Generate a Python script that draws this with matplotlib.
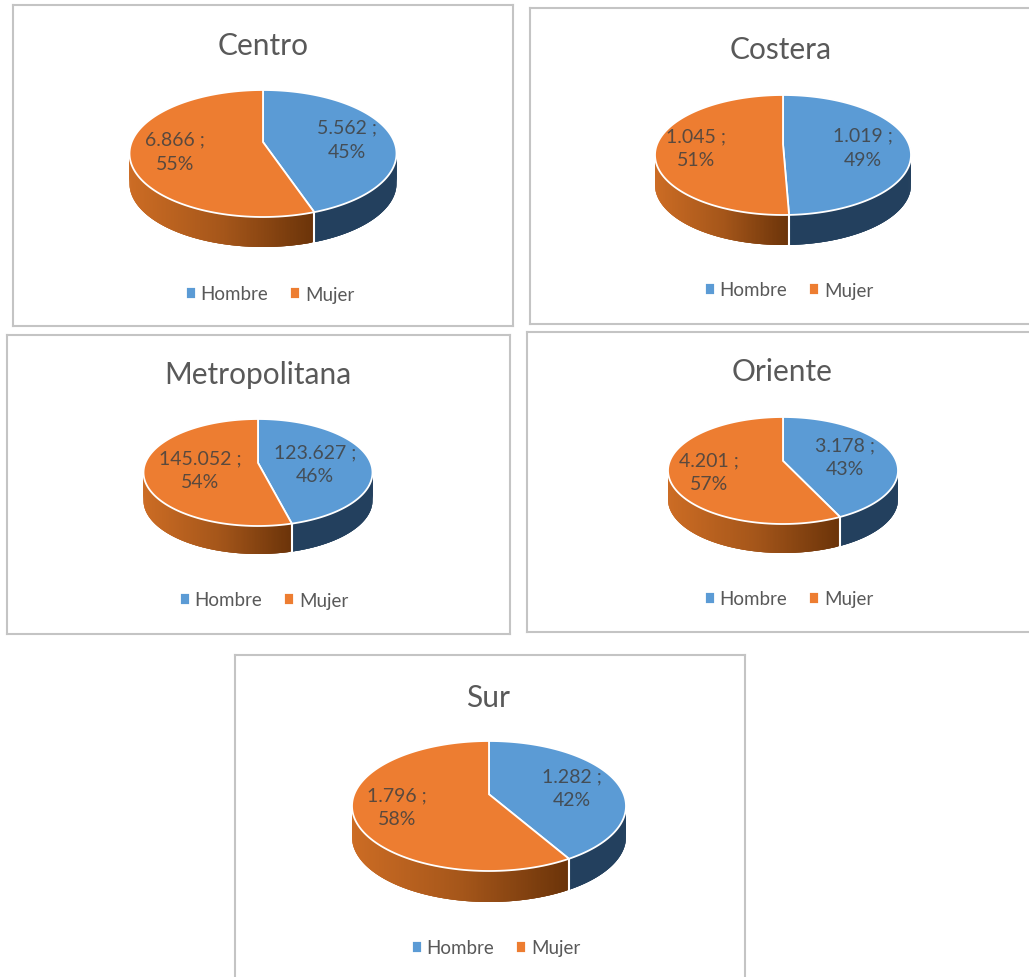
import numpy as np
import matplotlib
matplotlib.use('Agg')
import matplotlib.pyplot as plt
from matplotlib.colors import to_rgb

plt.rcParams['font.family'] = ['Lato', 'DejaVu Sans']

regions = ['Centro', 'Costera', 'Metropolitana', 'Oriente', 'Sur']
categories = ['Hombre', 'Mujer']
hombre = [5562, 1019, 123627, 3178, 1282]
mujer = [6866, 1045, 145052, 4201, 1796]
pct_hombre = ['45%', '49%', '46%', '43%', '42%']
pct_mujer = ['55%', '51%', '54%', '57%', '58%']

W, H = 1029, 978
BLUE = '#5B9BD5'
ORANGE = '#ED7D31'
TEXT = '#595959'
K = 0.18  # perspective of the tilted disc

# layout, in pixels of the picture
frames = [(13, 513, 6, 327), (530, 1045, 9, 325), (7, 510, 336, 635),
          (527, 1045, 333, 633), (235, 745, 656, 990)]
pies = [(263, 133.5, 91, 218, 30), (783, 128, 96, 216, 30), (258, 114.5, 420, 527, 28),
        (783, 115, 418, 525, 29), (489, 137, 742, 872, 31)]
title_pos = [(263, 46), (781, 50), (258, 375), (782, 372), (488, 698)]
legend_pos = [(270, 295), (789, 291), (264, 601), (789, 600), (496, 949)]
blue_label = [(347, 140), (863, 148), (315, 465), (845, 458), (572, 789)]
orange_label = [(175, 152), (696, 149), (200, 471), (709, 473), (397, 808)]


def fmt(v):
    return f'{v:,}'.replace(',', '.') + ' ;'


def disc(theta, cx, a, top, bottom):
    # theta clockwise from the top of the disc, degrees
    b = (bottom - top) / (1 / (1 + K) + 1 / (1 - K))
    apex = top + b / (1 + K)
    t = np.radians(theta)
    u, v = np.sin(t), np.cos(t)
    w = 1 + K * v
    sx = a * np.sqrt(1 - K ** 2)
    return cx + sx * u / w, apex - b * v / w, apex


def orange_side(p):
    c0 = np.array(to_rgb('#CC6C24'))
    c1 = np.array(to_rgb('#A5561A'))
    c2 = np.array(to_rgb('#6A3309'))
    p = min(max(p, 0), 1)
    if p < 0.5:
        return tuple(c0 + (c1 - c0) * p * 2)
    return tuple(c1 + (c2 - c1) * (p - 0.5) * 2)


fig = plt.figure(figsize=(W / 100, H / 100), dpi=100, facecolor='white')

for i, region in enumerate(regions):
    x0, x1, y0, y1 = frames[i]
    ax = fig.add_axes([x0 / W, 1 - y1 / H, (x1 - x0) / W, (y1 - y0) / H])
    ax.set_xlim(x0, x1)
    ax.set_ylim(y1, y0)
    ax.set_xticks([])
    ax.set_yticks([])
    for s in ax.spines.values():
        s.set_color('#C4C4C4')
        s.set_linewidth(1.5)

    cx, a, top, bottom, depth = pies[i]
    frac = hombre[i] / (hombre[i] + mujer[i])
    split = frac * 360
    sx, sy, apex = disc(np.array([split]), cx, a, top, bottom)

    # side wall, overlapping strips so the shade can run along it without seams
    for th in np.arange(90, 270, 0.5):
        end = th + 1.5
        if th < split:
            end = min(end, split)
        xs, ys, _ = disc(np.array([th, end]), cx, a, top, bottom)
        if th < split:
            col = '#23405E'
        else:
            col = orange_side((xs.mean() - (cx - a)) / (sx[0] - (cx - a)))
        ax.fill([xs[0], xs[1], xs[1], xs[0]],
                [ys[0], ys[1], ys[1] + depth, ys[0] + depth],
                facecolor=col, edgecolor='none', zorder=1)
    ax.plot([sx[0], sx[0]], [sy[0], sy[0] + depth], color='white', lw=1.5, zorder=2)

    # top of the pie
    th_b = np.linspace(0, split, 120)
    th_o = np.linspace(split, 360, 120)
    xb, yb, _ = disc(th_b, cx, a, top, bottom)
    xo, yo, _ = disc(th_o, cx, a, top, bottom)
    h1 = ax.fill(np.r_[cx, xb], np.r_[apex, yb], facecolor=BLUE, edgecolor='white', lw=1.3, zorder=3)[0]
    h2 = ax.fill(np.r_[cx, xo], np.r_[apex, yo], facecolor=ORANGE, edgecolor='white', lw=1.3, zorder=3)[0]

    ax.text(*title_pos[i], region, ha='center', va='center', fontsize=21.5, color=TEXT)
    ax.text(*blue_label[i], fmt(hombre[i]) + '\n' + pct_hombre[i], ha='center', va='center',
            fontsize=14, color='#404040', alpha=0.85, linespacing=1.5, zorder=4)
    ax.text(*orange_label[i], fmt(mujer[i]) + '\n' + pct_mujer[i], ha='center', va='center',
            fontsize=14, color='#404040', alpha=0.85, linespacing=1.5, zorder=4)

    ax.legend([h1, h2], categories, loc='center', bbox_to_anchor=legend_pos[i],
              bbox_transform=ax.transData, ncol=2, frameon=False, fontsize=13.5,
              labelcolor=TEXT, handlelength=0.55, handleheight=0.55,
              handletextpad=0.25, columnspacing=1.15, borderpad=0, borderaxespad=0)

fig.savefig('out.png', dpi=100)
